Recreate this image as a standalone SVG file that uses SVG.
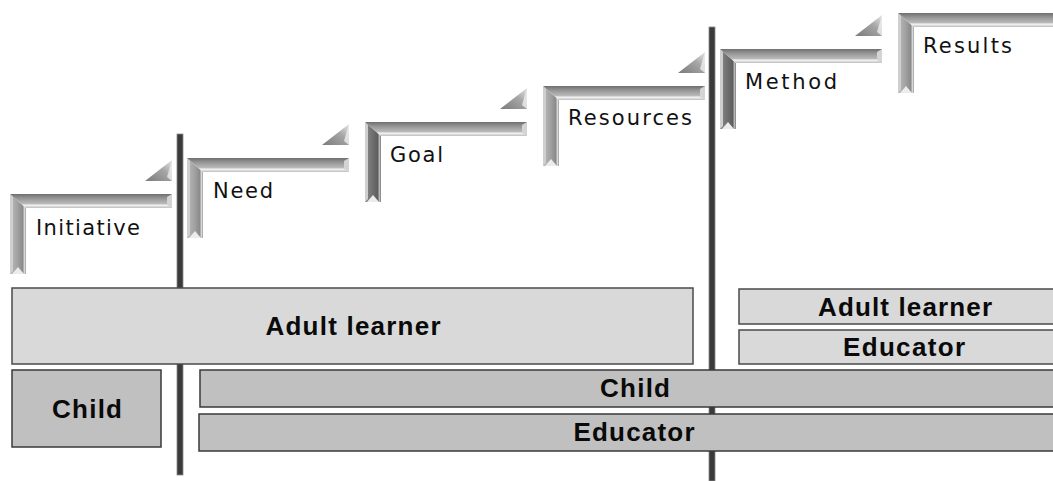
<svg xmlns="http://www.w3.org/2000/svg" xmlns:xlink="http://www.w3.org/1999/xlink" width="1053" height="481" viewBox="0 0 1053 481">
<style>
.lbl{font-family:"DejaVu Sans","Liberation Sans",sans-serif;font-size:21px;fill:#111;}
.btx{font-family:"Liberation Sans",Arial,sans-serif;font-weight:bold;font-size:26px;fill:#0a0a0a;text-anchor:middle;}
.light{fill:#d9d9d9;stroke:#4a4a4a;stroke-width:1.5;}
.mid{fill:#c0c0c0;stroke:#3a3a3a;stroke-width:1.5;}
.pole{fill:#3a3a3a;stroke:#8a8a8a;stroke-width:0.8;}
</style>
<defs>
<linearGradient id="hbar" x1="0" y1="0" x2="0" y2="1">
<stop offset="0" stop-color="#6f6f6f"/>
<stop offset="0.3" stop-color="#959595"/>
<stop offset="0.68" stop-color="#b8b8b8"/>
<stop offset="0.8" stop-color="#f4f4f4"/>
<stop offset="1" stop-color="#bdbdbd"/>
</linearGradient>
<linearGradient id="vbar" x1="0" y1="0" x2="1" y2="0">
<stop offset="0" stop-color="#b9b9b9"/>
<stop offset="0.45" stop-color="#a3a3a3"/>
<stop offset="0.8" stop-color="#8a8a8a"/>
<stop offset="0.9" stop-color="#dcdcdc"/>
<stop offset="1" stop-color="#9a9a9a"/>
</linearGradient>
<linearGradient id="vbarD" x1="0" y1="0" x2="1" y2="0">
<stop offset="0" stop-color="#8a8a8a"/>
<stop offset="0.45" stop-color="#707070"/>
<stop offset="0.8" stop-color="#5e5e5e"/>
<stop offset="0.9" stop-color="#bdbdbd"/>
<stop offset="1" stop-color="#7a7a7a"/>
</linearGradient>
<linearGradient id="tri" x1="0" y1="1" x2="1" y2="0">
<stop offset="0" stop-color="#7a7a7a"/>
<stop offset="0.6" stop-color="#a6a6a6"/>
<stop offset="1" stop-color="#e6e6e6"/>
</linearGradient>
<g id="step">
<polygon points="135,-13 162,-34 162,-13" fill="url(#tri)"/>
<polygon points="157,-17 162,-34 162,-13" fill="#efefef" opacity="0.8"/>
<polygon points="0,0 162,0 162,14 16,14" fill="url(#hbar)"/>
<polygon points="157,3 162,0 162,14 157,11" fill="#d4d4d4"/>
<polygon points="0,80 3,77 3,3 0,0" fill="#cfcfcf"/>
</g>
<polygon id="vb" points="0,0 16,14 16,80 0,80"/>
<polygon id="foot" points="2,80 8,73 14,80" fill="#ececec"/>
</defs>

<g id="connectors">
<rect class="pole" x="177" y="134" width="6" height="341"/>
<rect class="pole" x="709" y="27" width="6" height="454"/>
</g>

<g id="step-initiative" transform="translate(10,194)">
<use xlink:href="#vb" fill="url(#vbar)"/><use xlink:href="#step"/><use xlink:href="#foot"/>
<text class="lbl" x="26" y="41" textLength="104" lengthAdjust="spacing">Initiative</text>
</g>
<g id="step-need" transform="translate(187,158)">
<use xlink:href="#vb" fill="url(#vbar)"/><use xlink:href="#step"/><use xlink:href="#foot"/>
<text class="lbl" x="26" y="40" textLength="60" lengthAdjust="spacing">Need</text>
</g>
<g id="step-goal" transform="translate(365,122)">
<use xlink:href="#vb" fill="url(#vbarD)"/><use xlink:href="#step"/><use xlink:href="#foot"/>
<text class="lbl" x="25" y="40" textLength="53" lengthAdjust="spacing">Goal</text>
</g>
<g id="step-resources" transform="translate(543,86)">
<use xlink:href="#vb" fill="url(#vbar)"/><use xlink:href="#step"/><use xlink:href="#foot"/>
<text class="lbl" x="25" y="39" textLength="124" lengthAdjust="spacing">Resources</text>
</g>
<g id="step-method" transform="translate(720,49)">
<use xlink:href="#vb" fill="url(#vbarD)"/><use xlink:href="#step"/><use xlink:href="#foot"/>
<text class="lbl" x="25" y="40" textLength="92" lengthAdjust="spacing">Method</text>
</g>
<g id="step-results" transform="translate(898,13)">
<use xlink:href="#vb" fill="url(#vbar)"/><use xlink:href="#step"/><use xlink:href="#foot"/>
<text class="lbl" x="25" y="40" textLength="89" lengthAdjust="spacing">Results</text>
</g>

<g id="box-adult-left">
<rect class="light" x="12" y="288" width="681" height="76"/>
<text class="btx" x="353" y="335" textLength="175" lengthAdjust="spacing">Adult learner</text>
</g>
<g id="box-child-left">
<rect class="mid" x="12" y="370" width="149" height="77"/>
<text class="btx" x="87" y="418" textLength="70" lengthAdjust="spacing">Child</text>
</g>
<g id="box-child-long">
<rect class="mid" x="200" y="370" width="870" height="37"/>
<text class="btx" x="635" y="397" textLength="70" lengthAdjust="spacing">Child</text>
</g>
<g id="box-educator-long">
<rect class="mid" x="199" y="414" width="871" height="37"/>
<text class="btx" x="634" y="441" textLength="121" lengthAdjust="spacing">Educator</text>
</g>
<g id="box-adult-right">
<rect class="light" x="739" y="289" width="332" height="35"/>
<text class="btx" x="905" y="316" textLength="174" lengthAdjust="spacing">Adult learner</text>
</g>
<g id="box-educator-right">
<rect class="light" x="739" y="330" width="332" height="34"/>
<text class="btx" x="904" y="356" textLength="122" lengthAdjust="spacing">Educator</text>
</g>
</svg>
